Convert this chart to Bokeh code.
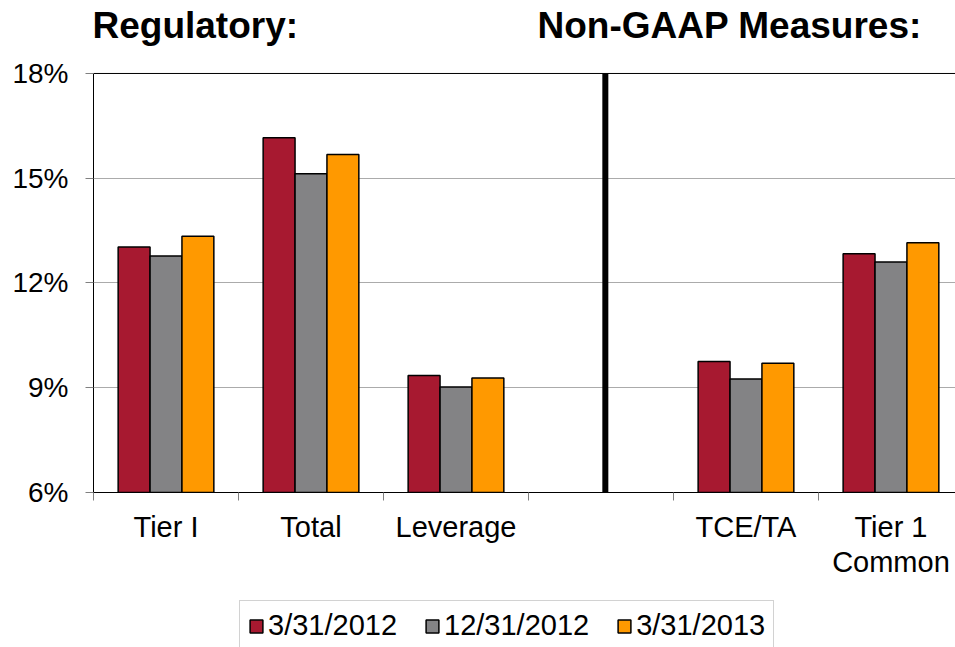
from bokeh.plotting import figure
from bokeh.layouts import column
from bokeh.models import (Range1d, FixedTicker, PrintfTickFormatter, Label,
                          Legend, LegendItem)
from bokeh.embed import file_html
from bokeh.resources import INLINE

# ---- data ----
categories = ["Tier I", "Total", "Leverage", "", "TCE/TA", "Tier 1\nCommon"]
series_names = ["3/31/2012", "12/31/2012", "3/31/2013"]
vals_mar2012 = [13.03, 16.16, 9.35, None, 9.75, 12.84]
vals_dec2012 = [12.77, 15.13, 9.02, None, 9.25, 12.60]
vals_mar2013 = [13.34, 15.68, 9.28, None, 9.70, 13.15]
y_ticks = [6, 9, 12, 15, 18]
section_titles = ["Regulatory:", "Non-GAAP Measures:"]

colors = ["#A71930", "#838385", "#FF9900"]
offsets = [-0.22, 0.0, 0.22]
bar_w = 0.22
FONT = "Liberation Sans"
Y_MIN, Y_MAX = 6, 18
X_MAX = 5.945
DIVIDER_X = 3.53

p = figure(width=955, height=597, output_backend="svg", toolbar_location=None,
           x_range=Range1d(0, X_MAX), y_range=Range1d(Y_MIN, 20.09),
           min_border_left=93, min_border_right=0, min_border_top=0,
           min_border_bottom=105)
p.outline_line_color = None
p.background_fill_color = "white"

renderers = []
all_vals = [vals_mar2012, vals_dec2012, vals_mar2013]
for vals, col, off in zip(all_vals, colors, offsets):
    xs = [i + 0.5 + off for i, v in enumerate(vals) if v is not None]
    ys = [v for v in vals if v is not None]
    r = p.vbar(x=xs, top=ys, bottom=0, width=bar_w, fill_color=col,
               line_color="black", line_width=1.5)
    renderers.append(r)

# grid
p.xgrid.grid_line_color = None
p.ygrid.grid_line_color = "#ABABAB"
p.ygrid.grid_line_width = 1
p.ygrid.ticker = FixedTicker(ticks=y_ticks)

# y axis
p.yaxis.bounds = (Y_MIN, Y_MAX)
p.yaxis.ticker = FixedTicker(ticks=y_ticks)
p.yaxis.formatter = PrintfTickFormatter(format="%d%%")
p.yaxis.axis_line_color = "black"
p.yaxis.major_tick_line_color = "#808080"
p.yaxis.major_tick_out = 8
p.yaxis.major_tick_in = 0
p.yaxis.minor_tick_line_color = None
p.yaxis.major_label_standoff = 17
p.yaxis.major_label_text_font = FONT
p.yaxis.major_label_text_font_size = "28px"
p.yaxis.major_label_text_color = "black"

# x axis
centers = [i + 0.5 for i in range(len(categories))]
bounds = [i for i in range(len(categories) + 1)]
p.xaxis.ticker = FixedTicker(ticks=centers, minor_ticks=bounds)
p.xaxis.major_label_overrides = {c: lab for c, lab in zip(centers, categories)}
p.xaxis.axis_line_color = "black"
p.xaxis.major_tick_line_color = None
p.xaxis.major_tick_out = 0
p.xaxis.major_tick_in = 0
p.xaxis.minor_tick_line_color = "#808080"
p.xaxis.minor_tick_out = 8
p.xaxis.minor_tick_in = 0
p.xaxis.major_label_standoff = 10
p.xaxis.major_label_text_font = FONT
p.xaxis.major_label_text_font_size = "29px"
p.xaxis.major_label_text_color = "black"
p.xaxis.major_label_text_line_height = 1.1

# top border of the plot area and the section divider
p.segment(x0=[0], y0=[Y_MAX], x1=[X_MAX], y1=[Y_MAX], line_color="black", line_width=1)
p.segment(x0=[DIVIDER_X], y0=[Y_MIN], x1=[DIVIDER_X], y1=[Y_MAX], line_color="black",
          line_width=6)

# section titles
for txt, sx in zip(section_titles, [-1, 444]):
    p.add_layout(Label(x=sx, y=467, x_units="screen", y_units="screen", text=txt,
                       text_font=FONT, text_font_size="37px", text_font_style="bold",
                       text_color="black", text_baseline="alphabetic"))

# ---- legend strip ----
lg = figure(width=955, height=50, output_backend="svg", toolbar_location=None,
            x_range=Range1d(0, 1), y_range=Range1d(0, 1),
            x_axis_location=None, y_axis_location=None,
            min_border_left=93, min_border_right=0, min_border_top=0,
            min_border_bottom=0)
lg.outline_line_color = None
lg.grid.grid_line_color = None
proxies = []
for c in colors:
    r = lg.vbar(x=[0.5], top=[1], width=0.1, fill_color=c, line_color="black",
                line_width=1.5)
    r.visible = False
    proxies.append(r)
legend = Legend(items=[LegendItem(label=n, renderers=[r]) for n, r in zip(series_names, proxies)],
                orientation="horizontal", location=(146, -4),
                glyph_width=16, glyph_height=16, label_standoff=4, spacing=27,
                padding=8, margin=0,
                label_text_font=FONT, label_text_font_size="29px", label_text_color="black",
                border_line_color="#A6A6A6", border_line_width=1,
                background_fill_color="white", background_fill_alpha=1)
lg.add_layout(legend, "center")

layout = column(p, lg, spacing=0)
open("out.html", "w").write(file_html(layout, INLINE))
